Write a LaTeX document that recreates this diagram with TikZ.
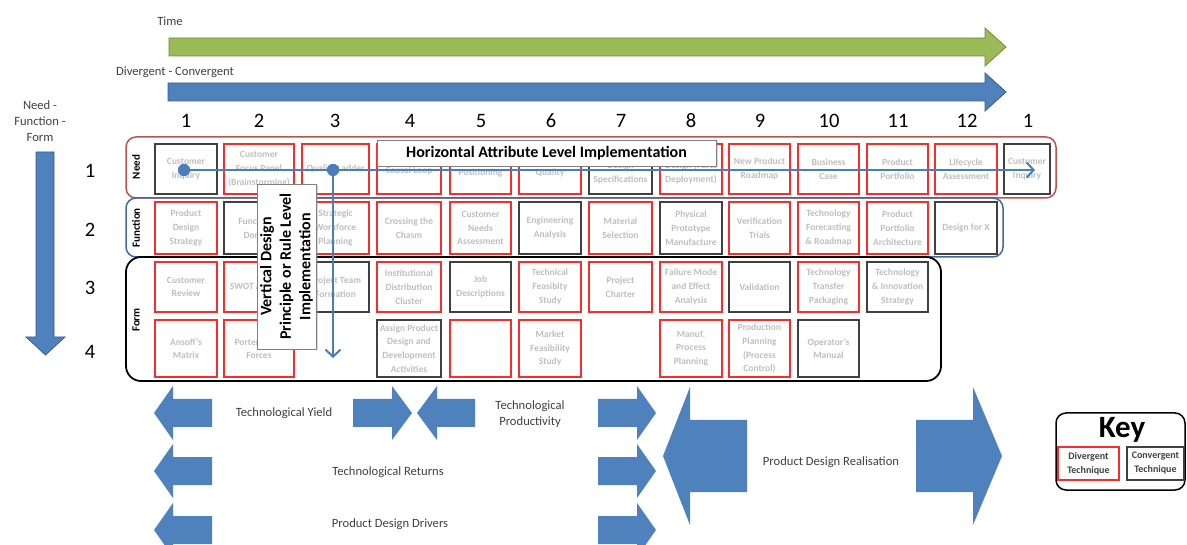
\documentclass[tikz,border=0pt]{standalone}
\usepackage{fontspec}
\setmainfont{Carlito}
\usepackage{tikz}
\usetikzlibrary{arrows.meta,shadows}

\definecolor{divred}{RGB}{245,45,45}
\definecolor{convgray}{RGB}{64,64,64}
\definecolor{cellgray}{RGB}{190,190,190}
\definecolor{needred}{RGB}{192,80,77}
\definecolor{funcblue}{RGB}{65,105,160}
\definecolor{arrowblue}{RGB}{79,129,189}
\definecolor{arrowedge}{RGB}{56,93,138}
\definecolor{timegreen}{RGB}{155,187,89}
\definecolor{timeedge}{RGB}{113,137,63}
\definecolor{traceblue}{RGB}{74,126,187}
\definecolor{labelgray}{RGB}{64,64,64}

\begin{document}
\begin{tikzpicture}[x=1pt,y=-1pt,
	cell/.style={draw,line width=1.3pt,minimum height=50,inner sep=0pt,align=center,text=cellgray,font=\bfseries\fontsize{9.5}{13.8}\selectfont},
	div/.style={cell,draw=divred},
	conv/.style={cell,draw=convgray},
	numlabel/.style={font=\fontsize{20.5}{21}\selectfont},
	textlabel/.style={font=\fontsize{12.6}{16}\selectfont,text=labelgray,align=center},
	grouplabel/.style={rotate=90,font=\bfseries\fontsize{11}{12}\selectfont},
	callout/.style={draw=gray,fill=white,line width=0.8pt,inner sep=2pt,align=center,font=\bfseries\fontsize{16}{19.5}\selectfont,drop shadow={shadow xshift=2pt,shadow yshift=-1.5pt,opacity=0.3}},
	keybox/.style={minimum height=33,text=labelgray,font=\bfseries\fontsize{10}{14}\selectfont},
	blockarrow/.style={fill=arrowblue},
	trace/.style={draw=traceblue,line width=2pt,-{Straight Barb[length=7pt,width=15pt,line width=2pt]}},
	dot/.style={circle,fill=traceblue,inner sep=0pt,minimum size=12}]
		\useasboundingbox (0,0) rectangle (1187,545);
		% time and divergent-convergent arrows
		\node[textlabel] (time) at (170,21) {Time};
		\filldraw[fill=timegreen,draw=timeedge,line width=0.8pt] (169,38) -- (985,38) -- (985,28) -- (1006,47) -- (985,66) -- (985,56) -- (169,56) -- cycle;
		\node[textlabel] (divconv) at (175,72) {Divergent - Convergent};
		\filldraw[fill=arrowblue,draw=arrowedge,line width=0.8pt] (168,83) -- (985,83) -- (985,73) -- (1006,92) -- (985,111) -- (985,101) -- (168,101) -- cycle;
		% need - function - form arrow
		\node[textlabel] (nff) at (40,121) {Need -\\Function -\\Form};
		\filldraw[fill=arrowblue,draw=arrowedge,line width=0.8pt] (36,152) -- (54,152) -- (54,337) -- (65,337) -- (45.5,355) -- (26,337) -- (36,337) -- cycle;
		% column and row numbers
		\foreach \x/\n [count=\i] in {186/1,259/2,335/3,410/4,481/5,551/6,621/7,691/8,760/9,829/10,898/11,967/12,1028/1}
			\node[numlabel] (col\i) at (\x,121) {\n};
		\foreach \y [count=\i] in {171,230,288,352}
			\node[numlabel] (row\i) at (90,\y) {\i};
		% level boxes
		\draw[needred,line width=1.5pt,rounded corners=10pt] (126,137) rectangle (1056,198);
		\draw[funcblue,line width=1.5pt,rounded corners=10pt] (126,198) rectangle (1003,257);
		\draw[black,line width=1.8pt,rounded corners=15pt] (126,257) rectangle (941,381);
		\node[grouplabel] (need) at (136,167) {Need};
		\node[grouplabel] (function) at (136,228) {Function};
		\node[grouplabel] (form) at (136,320) {Form};
		% need row
		\foreach \x/\w/\s/\t [count=\i] in {186/62/conv/{Customer\\Inquiry},259/70/div/{Customer\\Focus Panel\\(Brainstorming)},335.5/67/div/{Quality Ladder},409/64/div/{\mbox{}\\[-4pt]Causal Loop},480.5/61/div/{\mbox{}\\Positioning},550/62/div/{\mbox{}\\Quality},620.5/63/conv/{\mbox{}\\Design\\Specifications},691/62/div/{\mbox{}\\Design (Parts\\Deployment)},759.5/61/div/{New Product\\Roadmap},828.5/61/div/{Business\\Case},897.5/61/div/{Product\\Portfolio},966/62/div/{Lifecycle\\Assessment},1027/46/conv/{Customer\\Inquiry}}
			\node[\s,minimum width=\w] (n\i) at (\x,169) {\t};
		% function row
		\foreach \x/\w/\s/\t [count=\i] in {186/62/div/{Product\\Design\\Strategy},259/70/conv/{Functional\\Domain},335.5/67/div/{Strategic\\Workforce\\Planning},409/64/div/{Crossing the\\Chasm},480.5/61/div/{Customer\\Needs\\Assessment},550/62/conv/{Engineering\\Analysis},620.5/63/div/{Material\\Selection},691/62/conv/{Physical\\Prototype\\Manufacture},759.5/61/div/{Verification\\Trials},828.5/61/div/{Technology\\Forecasting\\\& Roadmap},897.5/61/div/{Product\\Portfolio\\Architecture},966/62/conv/{Design for X}}
			\node[\s,minimum width=\w,minimum height=52] (f\i) at (\x,228) {\t};
		% form rows
		\foreach \x/\w/\s/\t [count=\i] in {186/62/div/{Customer\\Review},259/70/div/{SWOT Analysis},335.5/67/conv/{Project Team\\Formation},409/64/div/{Institutional\\Distribution\\Cluster},480.5/61/conv/{Job\\Descriptions},550/62/div/{Technical\\Feasibity\\Study},620.5/63/div/{Project\\Charter},691/62/div/{Failure Mode\\and Effect\\Analysis},759.5/61/conv/{Validation},828.5/61/div/{Technology\\Transfer\\Packaging},897.5/61/conv/{Technology\\\& Innovation\\Strategy}}
			\node[\s,minimum width=\w] (p\i) at (\x,287) {\t};
		\foreach \x/\w/\s/\t [count=\i] in {186/62/div/{Ansoff's\\Matrix},259/70/div/{Porter's Five\\Forces},409/64/conv/{Assign Product\\Design and\\Development\\Activities},480.5/61/div/{},550/62/div/{Market\\Feasibility\\Study},691/62/div/{Manuf.\\Process\\Planning},759.5/61/div/{Production\\Planning\\(Process\\Control)},828.5/61/conv/{Operator's\\Manual}}
			\node[\s,minimum width=\w,minimum height=57] (q\i) at (\x,348.5) {\t};
		% implementation traces
		\coordinate (hend) at (1035,170);
		\coordinate (vend) at (333,358);
		\node[dot] (dotA) at (184,170) {};
		\node[dot] (dotB) at (333,170) {};
		\draw[trace] (dotA.center) -- (hend);
		\draw[trace] (dotB.center) -- (vend);
		\node[dot] at (dotA) {};
		\node[dot] at (dotB) {};
		\node[callout,minimum width=339,minimum height=26] (hlabel) at (546.5,153) {Horizontal Attribute Level Implementation};
		\node[callout,rotate=90,minimum width=165,minimum height=59] (vlabel) at (286.5,266.5) {Vertical Design\\Principle or Rule Level\\Implementation};
		% block arrows
		\foreach \y in {413,471,530} {
			\fill[blockarrow] (154,\y) -- ++(19,-27) -- ++(0,13) -- ++(39,0) -- ++(0,28) -- ++(-39,0) -- ++(0,13) -- cycle;
			\fill[blockarrow] (598,\y-14) -- ++(39,0) -- ++(0,-13) -- ++(19,27) -- ++(-19,27) -- ++(0,-13) -- ++(-39,0) -- cycle;
		}
		\fill[blockarrow] (353,399) -- ++(39,0) -- ++(0,-13) -- ++(20,27) -- ++(-20,27) -- ++(0,-13) -- ++(-39,0) -- cycle;
		\fill[blockarrow] (417,413) -- ++(20,-27) -- ++(0,13) -- ++(38,0) -- ++(0,28) -- ++(-38,0) -- ++(0,13) -- cycle;
		\fill[blockarrow] (663,456) -- (690,387) -- (690,420) -- (747,420) -- (747,492) -- (690,492) -- (690,525) -- cycle;
		\fill[blockarrow] (916,420) -- (973,420) -- (973,387) -- (1002,456) -- (973,525) -- (973,492) -- (916,492) -- cycle;
		\node[textlabel] (yield) at (284,413) {Technological Yield};
		\node[textlabel] (productivity) at (530,414) {Technological\\Productivity};
		\node[textlabel] (returns) at (388,472) {Technological Returns};
		\node[textlabel] (drivers) at (390,524) {Product Design Drivers};
		\node[textlabel] (realisation) at (831,462) {Product Design Realisation};
		% key
		\draw[line width=1.5pt,rounded corners=10pt] (1056,413) rectangle (1185,490);
		\node[font=\bfseries\fontsize{31}{31}\selectfont] (key) at (1122,430) {Key};
		\node[div,keybox,minimum width=61] (keydiv) at (1088.5,463.5) {Divergent\\Technique};
		\node[conv,keybox,minimum width=57] (keyconv) at (1155.5,463.5) {Convergent\\Technique};
	\end{tikzpicture}
\end{document}
